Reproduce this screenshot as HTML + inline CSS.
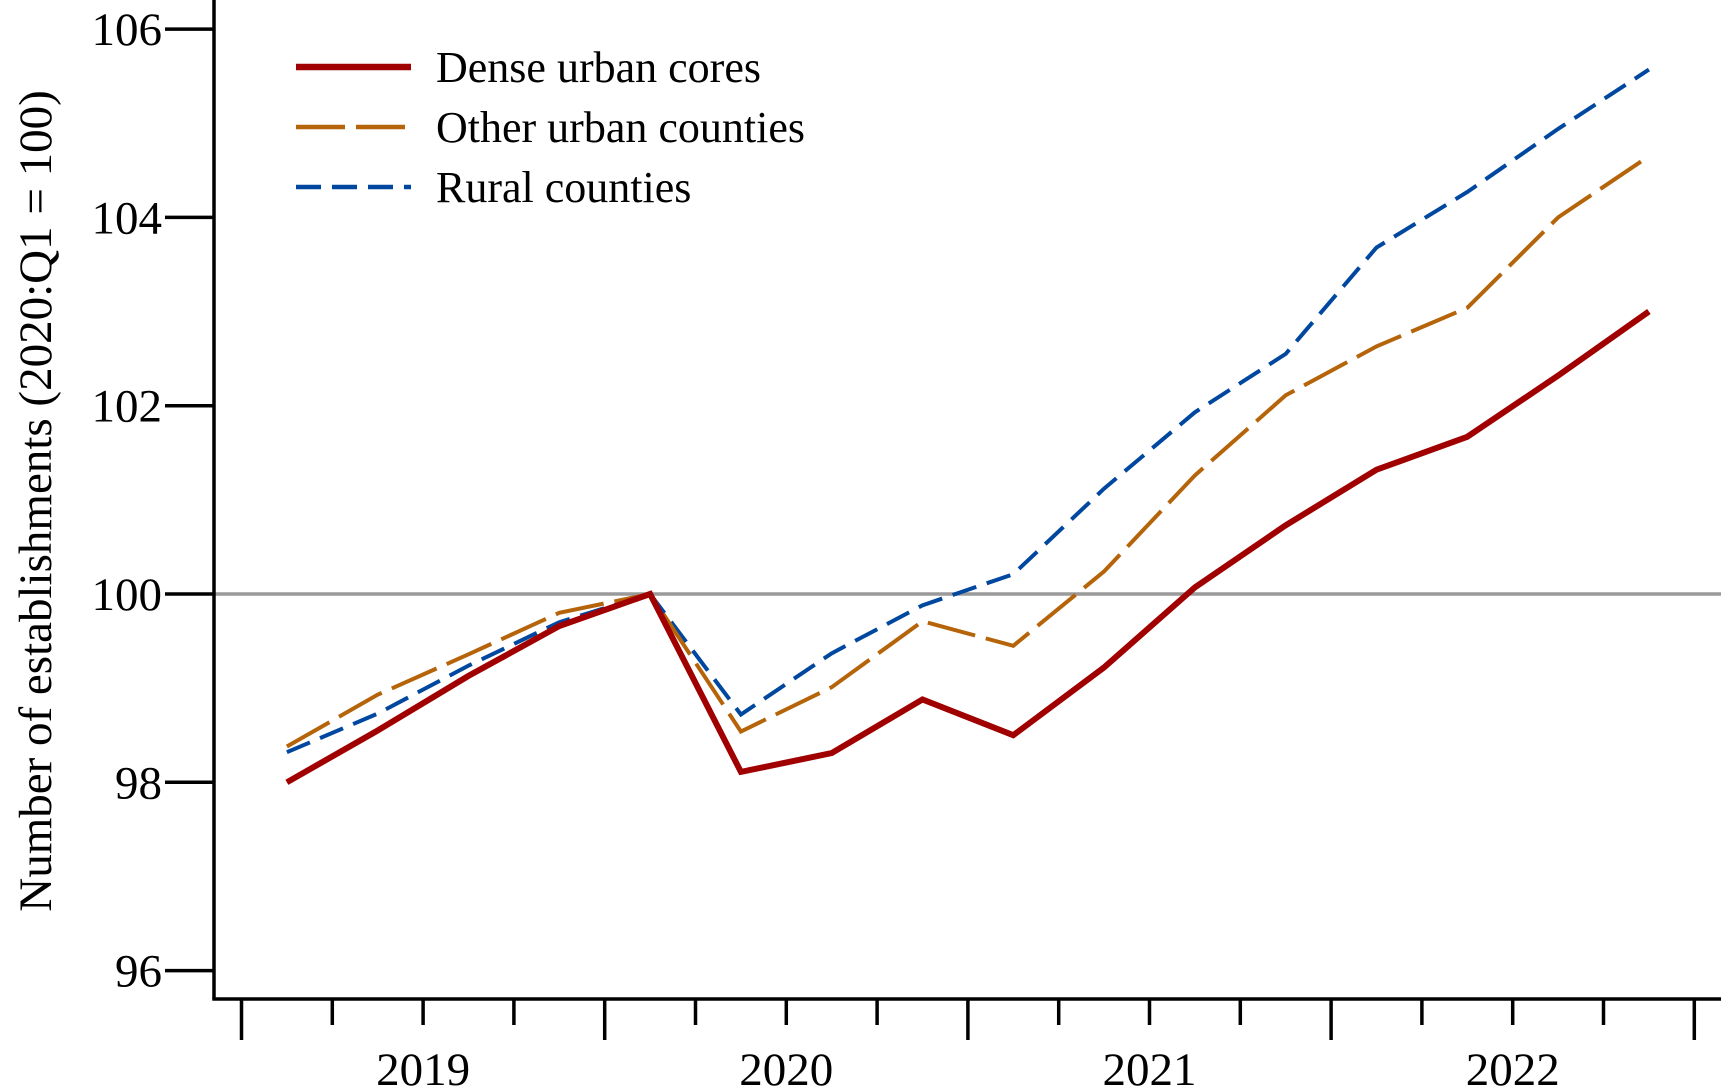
<!DOCTYPE html>
<html><head><meta charset="utf-8"><style>
html,body{margin:0;padding:0;background:#fff;}
svg{display:block;font-family:"Liberation Serif",serif;}
</style></head><body>
<svg id="chart" width="1721" height="1092" viewBox="0 0 1721 1092">
<line x1="214" y1="594" x2="1721" y2="594" stroke="#9a9a9a" stroke-width="3.5"/>
<g id="axes"></g>
<g id="series"></g>
<g>
<line x1="296" y1="67" x2="411" y2="67" stroke="#a00000" stroke-width="6.5"/>
<text x="436" y="82" font-size="44">Dense urban cores</text>
<line x1="296" y1="127" x2="411" y2="127" stroke="#b5640a" stroke-width="4.5" stroke-dasharray="49 11"/>
<text x="436" y="142" font-size="44">Other urban counties</text>
<line x1="296" y1="187" x2="411" y2="187" stroke="#0047a0" stroke-width="4.5" stroke-dasharray="25 11"/>
<text x="436" y="202" font-size="44">Rural counties</text>
</g>
<text transform="translate(51,501) rotate(-90)" text-anchor="middle" font-size="47">Number of establishments (2020:Q1 = 100)</text>
</svg>
<script>
const years = ["2019","2020","2021","2022"];
const yTicks = [96,98,100,102,104,106];
const dense = [98.0,98.55,99.13,99.66,100,98.11,98.31,98.88,98.50,99.22,100.07,100.73,101.32,101.67,102.32,103.0];
const other = [98.38,98.93,99.36,99.8,100,98.54,99.01,99.71,99.45,100.24,101.26,102.11,102.63,103.04,104.0,104.65];
const rural = [98.32,98.73,99.24,99.7,100,98.72,99.37,99.88,100.21,101.12,101.93,102.55,103.68,104.27,104.94,105.57];

const NS="http://www.w3.org/2000/svg";
const x0=241.5, qW=90.8;
function xQ(i){return x0+qW*(i+0.5);}
function yV(v){return 594-(v-100)*94.15;}
const axes=document.getElementById('axes');
function mk(tag,attrs,parent){const e=document.createElementNS(NS,tag);for(const k in attrs)e.setAttribute(k,attrs[k]);parent.appendChild(e);return e;}
let e;
e=mk('line',{x1:214,y1:0,x2:214,y2:999,stroke:'#000','stroke-width':3.5},axes);


e=mk('line',{x1:212.3,y1:999,x2:1721,y2:999,stroke:'#000','stroke-width':3.5},axes);


yTicks.forEach(v=>{
  const y=yV(v);
  e=mk('line',{x1:165,y1:y,x2:214,y2:y,stroke:'#000','stroke-width':3.5},axes);
  
  
  e=mk('text',{x:162,y:y+16,'text-anchor':'end','font-size':47},axes);
  e.textContent=String(v);
  
  
});
for(let i=0;i<=years.length*4;i++){
  const x=x0+qW*i, major=i%4===0;
  e=mk('line',{x1:x,y1:999,x2:x,y2:major?1040:1025,stroke:'#000','stroke-width':3.5},axes);
  
  
}
years.forEach((yr,j)=>{
  e=mk('text',{x:x0+qW*(4*j+2),y:1085,'text-anchor':'middle','font-size':47},axes);
  e.textContent=yr;
  
  
});
const ser=document.getElementById('series');
function draw(arr,color,w,dash,name){
  const d=arr.map((v,i)=>(i?'L':'M')+xQ(i).toFixed(1)+' '+yV(v).toFixed(1)).join(' ');
  const p=mk('path',{d:d,fill:'none',stroke:color,'stroke-width':w,'stroke-linejoin':'miter'},ser);
  if(dash)p.setAttribute('stroke-dasharray',dash);
  
  
}
draw(rural,'#0047a0',4,'25 11','rural-counties-line');
draw(other,'#b5640a',4,'49 11','other-urban-counties-line');
draw(dense,'#a00000',6,null,'dense-urban-cores-line');
</script>
</body></html>
